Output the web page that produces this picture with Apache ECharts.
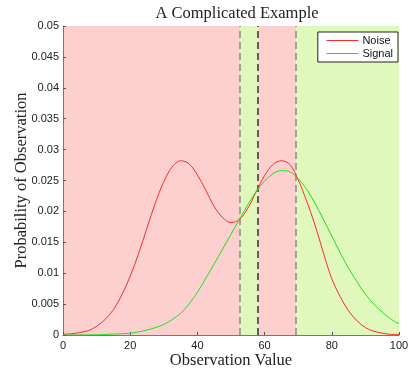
<!DOCTYPE html>
<html>
<head>
<meta charset="utf-8">
<script src="https://cdn.jsdelivr.net/npm/echarts@6/dist/echarts.min.js"></script>
<style>html,body{margin:0;padding:0;background:#fff;}#c{width:408px;height:373px;}</style>
</head>
<body>
<div id="c"></div>
<script>
var xValues = [0,2.5,5,7.5,10,12.5,15,17.5,20,22.5,25,27.5,30,32.5,35,37.5,40,42.5,45,47.5,50,52.5,55,57.5,60,62.5,65,67.5,70,72.5,75,77.5,80,82.5,85,87.5,90,92.5,95,97.5,100];
var noise = [0.0001,0.0002,0.0004,0.0007,0.0014,0.0025,0.0041,0.0065,0.0095,0.0132,0.0173,0.0214,0.0248,0.0272,0.0282,0.0277,0.0259,0.0234,0.0208,0.0190,0.0182,0.0187,0.0205,0.0232,0.0258,0.0276,0.0282,0.0276,0.0251,0.0217,0.0178,0.0133,0.0091,0.0062,0.0039,0.0023,0.0012,0.0006,0.0003,0.0001,0.0001];
var signal = [0.0000,0.0000,0.00001,0.00002,0.00004,0.00008,0.00015,0.0002,0.0003,0.0005,0.0008,0.0012,0.0017,0.0025,0.0035,0.0050,0.0069,0.0092,0.0115,0.0139,0.0163,0.0187,0.0211,0.0232,0.0249,0.0261,0.0266,0.0264,0.0253,0.0236,0.0213,0.0187,0.0160,0.0133,0.0108,0.0086,0.0066,0.0050,0.0037,0.0026,0.0018];
var boundaries = [52.7, 58.1, 69.4];
var regionKinds = ['noise','signal','noise','signal'];
var seriesNames = ['Noise','Signal'];

var edges = [0].concat(boundaries).concat([100]);
var regionColor = {noise:'#fdd0d0', signal:'#e0f8bc'};
var areas = [];
for (var i = 0; i < regionKinds.length; i++) {
  areas.push([{xAxis: edges[i], itemStyle:{color: regionColor[regionKinds[i]], opacity:1}}, {xAxis: edges[i+1]}]);
}
var lineColors = ['#8a8a8a','#333333','#8a8a8a'];
var vlines = boundaries.map(function(b, i){
  return {xAxis: b, lineStyle:{color: lineColors[i], type:[7,4], width:1.5}};
});
function pairs(ys){ return xValues.map(function(x,i){ return [x, ys[i]]; }); }
var curveColors = ['#ff2a2a', '#1fe01f'];

var chart = echarts.init(document.getElementById('c'), null, {renderer:'canvas'});
chart.setOption({
  animation: false,
  title: {
    text: 'A Complicated Example', left: 232, top: 0, textAlign: 'center',
    textStyle: {fontFamily:'Liberation Serif', fontSize:16.5, fontWeight:'normal', color:'#222'}
  },
  grid: {left:63, right:9, top:26, bottom:38, containLabel:false, outerBoundsMode:'none'},
  legend: {
    orient:'vertical', right:10, top:32, backgroundColor:'#fff', borderColor:'#222', borderWidth:1,
    borderRadius:0, padding:[3,5,3,8], itemGap:2, itemWidth:32, itemHeight:10,
    itemStyle:{opacity:0},
    textStyle:{fontFamily:'Liberation Sans', fontSize:11, color:'#111', padding:[0,0,0,-1]},
    data: seriesNames.map(function(n, i){
      return {name:n, lineStyle:{color:curveColors[i], width:1.2, opacity:1}};
    })
  },
  xAxis: {
    type:'value', min:0, max:100, interval:20,
    name:'Observation Value', nameLocation:'middle', nameGap:17, nameMoveOverlap:false,
    nameTextStyle:{fontFamily:'Liberation Serif', fontSize:16.5, color:'#222'},
    axisLine:{show:true, lineStyle:{color:'#777', width:1}},
    axisTick:{show:true, inside:true, length:3, lineStyle:{color:'#555'}},
    axisLabel:{fontFamily:'Liberation Sans', fontSize:11, color:'#222', margin:5},
    splitLine:{show:false}
  },
  yAxis: {
    type:'value', min:0, max:0.05, interval:0.005,
    name:'Probability of Observation', nameLocation:'middle', nameGap:33, nameRotate:90, nameMoveOverlap:false,
    nameTextStyle:{fontFamily:'Liberation Serif', fontSize:16.5, color:'#222'},
    axisLine:{show:true, lineStyle:{color:'#777', width:1}},
    axisTick:{show:true, inside:true, length:3, lineStyle:{color:'#555'}},
    axisLabel:{fontFamily:'Liberation Sans', fontSize:11, color:'#222', margin:4,
      formatter:function(v){ return String(+v.toFixed(3)); }},
    splitLine:{show:false}
  },
  series: [
    {
      name: seriesNames[0], type:'line', data: pairs(noise), smooth:0.35, symbol:'none',
      lineStyle:{color:curveColors[0], width:1}, itemStyle:{color:curveColors[0]}, z:3,
      markArea:{silent:true, data: areas, z:0},
      markLine:{silent:true, symbol:'none', label:{show:false}, data: vlines, z:2}
    },
    {
      name: seriesNames[1], type:'line', data: pairs(signal), smooth:0.35, symbol:'none',
      lineStyle:{color:curveColors[1], width:1}, itemStyle:{color:curveColors[1]}, z:3
    }
  ]
});
</script>
</body>
</html>
